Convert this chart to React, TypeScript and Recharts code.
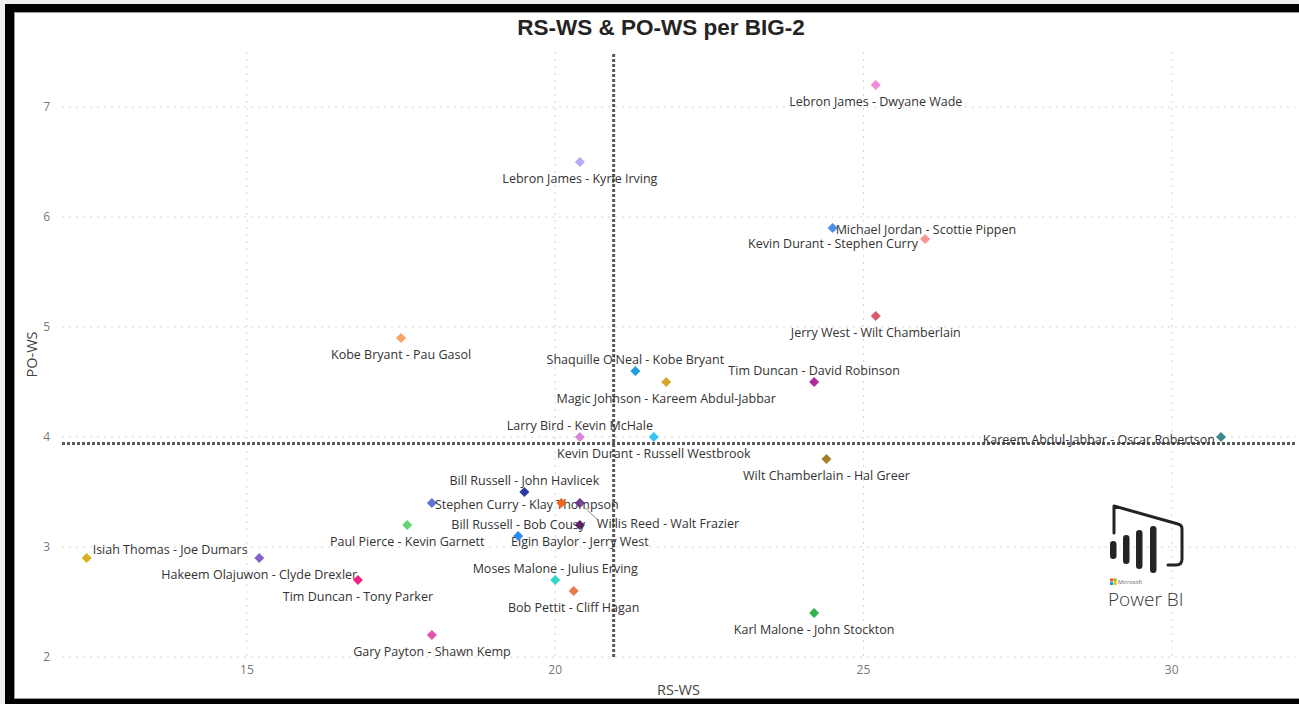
import { CartesianGrid, ReferenceLine, Scatter, ScatterChart, XAxis, YAxis } from 'recharts';

const pairs = [
  'Lebron James - Dwyane Wade',
  'Lebron James - Kyrie Irving',
  'Michael Jordan - Scottie Pippen',
  'Kevin Durant - Stephen Curry',
  'Jerry West - Wilt Chamberlain',
  'Kobe Bryant - Pau Gasol',
  "Shaquille O'Neal - Kobe Bryant",
  'Magic Johnson - Kareem Abdul-Jabbar',
  'Tim Duncan - David Robinson',
  'Larry Bird - Kevin McHale',
  'Kevin Durant - Russell Westbrook',
  'Kareem Abdul-Jabbar - Oscar Robertson',
  'Wilt Chamberlain - Hal Greer',
  'Bill Russell - John Havlicek',
  'Stephen Curry - Klay Thompson',
  '',
  'Willis Reed - Walt Frazier',
  'Paul Pierce - Kevin Garnett',
  'Elgin Baylor - Jerry West',
  'Bill Russell - Bob Cousy',
  'Isiah Thomas - Joe Dumars',
  'Hakeem Olajuwon - Clyde Drexler',
  'Tim Duncan - Tony Parker',
  'Moses Malone - Julius Erving',
  'Bob Pettit - Cliff Hagan',
  'Karl Malone - John Stockton',
  'Gary Payton - Shawn Kemp',
];

const rsWs = [25.2, 20.4, 24.5, 26.0, 25.2, 17.5, 21.3, 21.8, 24.2, 20.4, 21.6, 30.8, 24.4, 19.5, 18.0, 20.1, 20.4, 17.6, 20.4, 19.4, 12.4, 15.2, 16.8, 20.0, 20.3, 24.2, 18.0];
const poWs = [7.2, 6.5, 5.9, 5.8, 5.1, 4.9, 4.6, 4.5, 4.5, 4.0, 4.0, 4.0, 3.8, 3.5, 3.4, 3.4, 3.4, 3.2, 3.2, 3.1, 2.9, 2.9, 2.7, 2.7, 2.6, 2.4, 2.2];

const xTicks = [15, 20, 25, 30];
const yTicks = [2, 3, 4, 5, 6, 7];

const pointColors = [
  '#f08ad6', '#b9a8f5', '#4b8ff0', '#f79494', '#d95b6b', '#f9a264', '#1c9fde', '#d2a826', '#b02a9c',
  '#d985d9', '#36c3f2', '#3b8a8c', '#a57d2c', '#2b3ba3', '#6273d2', '#f2651f', '#6b3b8c', '#66d375',
  '#6d1d7c', '#2c8cf2', '#d9b221', '#8663cb', '#ef2283', '#34d8c2', '#e77b4b', '#33b24f', '#e152b2',
];

// where Power BI put each data label
const placement: Record<string, string> = {
  'Michael Jordan - Scottie Pippen': 'right',
  'Stephen Curry - Klay Thompson': 'right',
  'Isiah Thomas - Joe Dumars': 'rightTop',
  'Kevin Durant - Stephen Curry': 'left',
  'Kareem Abdul-Jabbar - Oscar Robertson': 'leftMid',
  "Shaquille O'Neal - Kobe Bryant": 'top',
  'Tim Duncan - David Robinson': 'top',
  'Larry Bird - Kevin McHale': 'top',
  'Bill Russell - John Havlicek': 'top',
  'Moses Malone - Julius Erving': 'top',
  'Bill Russell - Bob Cousy': 'top',
  'Willis Reed - Walt Frazier': 'leader',
};

const data = pairs.map((name, i) => ({ name, rs: rsWs[i], po: poWs[i], idx: i }));
const avgRs = rsWs.reduce((a, b) => a + b, 0) / rsWs.length;
const avgPo = poWs.reduce((a, b) => a + b, 0) / poWs.length;

const labelFont = "'Segoe UI', 'Open Sans', sans-serif";

function Diamond(props: any) {
  const { cx, cy, payload } = props;
  const r = 5;
  const color = pointColors[payload.idx];
  const name = payload.name;
  const pos = placement[name] ?? 'bottom';
  let label = null;
  if (name) {
    const common = { fontSize: 12.5, fill: '#333', fontFamily: labelFont, dominantBaseline: 'central' as const };
    if (pos === 'bottom') label = <text x={cx} y={cy + 16.5} textAnchor="middle" {...common}>{name}</text>;
    else if (pos === 'top') label = <text x={cx} y={cy - 11.5} textAnchor="middle" {...common}>{name}</text>;
    else if (pos === 'right') label = <text x={cx + 3} y={cy + 1} textAnchor="start" {...common}>{name}</text>;
    else if (pos === 'rightTop') label = <text x={cx + 6} y={cy - 9} textAnchor="start" {...common}>{name}</text>;
    else if (pos === 'left') label = <text x={cx - 7} y={cy + 4} textAnchor="end" {...common}>{name}</text>;
    else if (pos === 'leftMid') label = <text x={cx - 6} y={cy + 2} textAnchor="end" {...common}>{name}</text>;
    else if (pos === 'leader')
      label = (
        <g>
          <line x1={cx} y1={cy} x2={cx + 18} y2={cy + 17} stroke="#888" strokeWidth={1} />
          <text x={cx + 17} y={cy + 20} textAnchor="start" {...common}>{name}</text>
        </g>
      );
  }
  return (
    <g>
      <path d={`M${cx},${cy - r} L${cx + r},${cy} L${cx},${cy + r} L${cx - r},${cy} Z`} fill={color} />
      {label}
    </g>
  );
}

function Frame() {
  return (
    <svg width={1299} height={704} style={{ position: 'absolute', left: 0, top: 0, pointerEvents: 'none' }}>
      <rect x={0} y={0} width={1299} height={4} fill="#efefef" />
      <rect x={0} y={0} width={5} height={704} fill="#efefef" />
      <rect x={5} y={4} width={1294} height={8} fill="#000" />
      <rect x={5} y={4} width={9} height={700} fill="#000" />
      <rect x={5} y={699} width={1294} height={5} fill="#000" />
      <line x1={14} y1={12.5} x2={1299} y2={12.5} stroke="#999" strokeWidth={1} />
      <line x1={14.5} y1={12} x2={14.5} y2={699} stroke="#999" strokeWidth={1} />
      <line x1={14} y1={698.5} x2={1299} y2={698.5} stroke="#999" strokeWidth={1} />
      <text x={661} y={27} textAnchor="middle" dominantBaseline="central" fontFamily="'Liberation Sans', Arial, sans-serif" fontWeight="bold" fontSize={22.5} fill="#252423">
        RS-WS &amp; PO-WS per BIG-2
      </text>
      {/* Power BI logo */}
      <g>
        <path d="M1114,533 L1114,506 L1178,524 Q1182,525 1182,529 L1182,559 Q1182,565 1176,565 L1168,565" fill="none" stroke="#252423" strokeWidth={3} strokeLinejoin="round" strokeLinecap="round" />
        <rect x={1110} y={541} width={6.5} height={18} rx={3.25} fill="#252423" />
        <rect x={1123} y={535} width={6.5} height={29} rx={3.25} fill="#252423" />
        <rect x={1136} y={530} width={6.5} height={39} rx={3.25} fill="#252423" />
        <rect x={1150} y={526} width={6.5} height={47} rx={3.25} fill="#252423" />
        <rect x={1110} y={578.5} width={3} height={3} fill="#f25022" />
        <rect x={1113.5} y={578.5} width={3} height={3} fill="#7fba00" />
        <rect x={1110} y={582} width={3} height={3} fill="#00a4ef" />
        <rect x={1113.5} y={582} width={3} height={3} fill="#ffb900" />
        <text x={1118} y={584} fontSize={5.5} fill="#666" fontFamily={labelFont}>Microsoft</text>
        <text x={1108} y={606} fontSize={19} fontWeight={300} fill="#333" fontFamily={labelFont}>Power BI</text>
      </g>
    </svg>
  );
}

export default function App() {
  return (
    <div style={{ position: 'relative', width: 1299, height: 704, background: '#fff' }}>
      <style>{'body{margin:0}'}</style>
      <ScatterChart width={1299} height={704} margin={{ top: 52, right: 4, bottom: 0, left: 0 }}>
        <CartesianGrid stroke="#d6d6d6" strokeDasharray="2 5" horizontalValues={yTicks} verticalValues={xTicks} />
        <XAxis
          type="number"
          dataKey="rs"
          domain={[12, 32]}
          ticks={xTicks}
          height={47}
          axisLine={false}
          tickLine={false}
          tick={{ fontSize: 12, fill: '#777', fontFamily: labelFont }}
          label={{ value: 'RS-WS', position: 'insideBottom', offset: 9, style: { fontSize: 14.5, fill: '#444', fontFamily: labelFont } }}
        />
        <YAxis
          type="number"
          dataKey="po"
          domain={[2, 7.5]}
          ticks={yTicks}
          width={62}
          axisLine={false}
          tickLine={false}
          tickMargin={6}
          tick={{ fontSize: 12, fill: '#777', fontFamily: labelFont }}
          label={{ value: 'PO-WS', angle: -90, position: 'insideLeft', offset: 32, style: { fontSize: 14.5, fill: '#444', fontFamily: labelFont, textAnchor: 'middle' } }}
        />
        <ReferenceLine x={avgRs} stroke="#5a5a5a" strokeWidth={3} strokeDasharray="3 2" />
        <ReferenceLine y={avgPo} stroke="#5a5a5a" strokeWidth={3} strokeDasharray="3 2" />
        <Scatter data={data} shape={Diamond} isAnimationActive={false} />
      </ScatterChart>
      <Frame />
    </div>
  );
}
